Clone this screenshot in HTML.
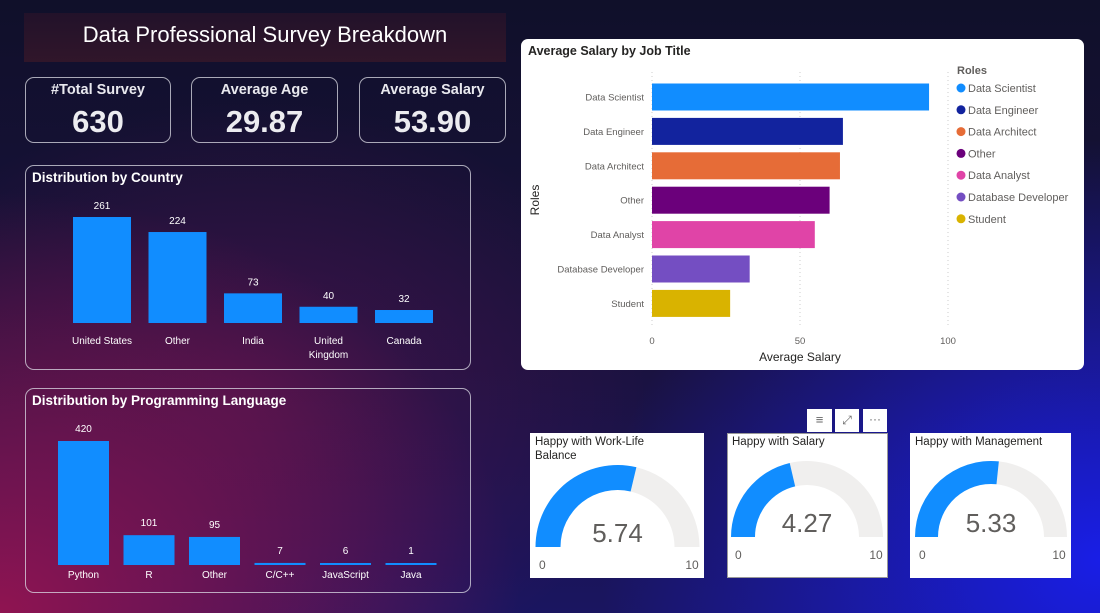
<!DOCTYPE html>
<html><head><meta charset="utf-8">
<style>
*{margin:0;padding:0;box-sizing:border-box}
body{width:1100px;height:613px;overflow:hidden;font-family:"Liberation Sans",sans-serif;position:relative;
background:
radial-gradient(ellipse 520px 420px at 0px 613px,rgba(150,20,80,0.95),rgba(150,20,80,0) 100%),
radial-gradient(ellipse 500px 420px at 1100px 560px,rgba(25,30,230,1),rgba(25,30,230,0) 100%),
radial-gradient(ellipse 400px 300px at 250px 400px,rgba(90,20,80,0.6),rgba(90,20,80,0) 100%),
linear-gradient(180deg,#10102a 0%,#1a1240 60%,#1a1560 100%);}
.abs{position:absolute}
.card{position:absolute;border:1.5px solid rgba(220,220,230,0.75);border-radius:9px}
.kpi .l{position:absolute;left:0;right:0;top:4px;text-align:center;color:#e8e8ee;font-weight:bold;font-size:14.5px}
.kpi .v{position:absolute;left:0;right:0;top:26px;text-align:center;color:#ececf0;font-weight:bold;font-size:31px}
svg text{font-family:"Liberation Sans",sans-serif}
</style></head><body>
<div class="abs" style="left:24px;top:13px;width:482px;height:49px;background:linear-gradient(180deg,rgba(35,18,42,0.95),rgba(50,22,42,0.95));color:#fff;font-size:22px;text-align:center;line-height:44px">Data Professional Survey Breakdown</div>
<div class="card kpi" style="left:25px;top:77px;width:146px;height:66px"><div class="l">#Total Survey</div><div class="v">630</div></div>
<div class="card kpi" style="left:191px;top:77px;width:147px;height:66px"><div class="l">Average Age</div><div class="v">29.87</div></div>
<div class="card kpi" style="left:359px;top:77px;width:147px;height:66px"><div class="l">Average Salary</div><div class="v">53.90</div></div>
<div class="card" style="left:25px;top:165px;width:446px;height:205px"></div>
<div class="card" style="left:25px;top:388px;width:446px;height:205px"></div>
<div class="abs" style="left:521px;top:39px;width:563px;height:331px;background:#fff;border-radius:7px"></div>
<div class="abs" style="left:530px;top:433px;width:174px;height:145px;background:#fff"></div>
<div class="abs" style="left:727px;top:433px;width:161px;height:145px;background:#fff;border:1px solid #999"></div>
<div class="abs" style="left:910px;top:433px;width:161px;height:145px;background:#fff"></div>
<div class="abs" style="left:807px;top:409px;width:25px;height:23px;background:#fff;color:#666;font-size:13px;text-align:center;line-height:22px">≡</div>
<div class="abs" style="left:835px;top:409px;width:24px;height:23px;background:#fff;color:#666;font-size:12px;text-align:center;line-height:22px">⤢</div>
<div class="abs" style="left:863px;top:409px;width:24px;height:23px;background:#fff;color:#666;font-size:12px;text-align:center;line-height:20px">···</div>
<svg id="s" class="abs" style="left:0;top:0" width="1100" height="613"></svg>
<script>
const countryCats=["United States","Other","India","United|Kingdom","Canada"];
const countryVals=[261,224,73,40,32];
const langCats=["Python","R","Other","C/C++","JavaScript","Java"];
const langVals=[420,101,95,7,6,1];
const roleCats=["Data Scientist","Data Engineer","Data Architect","Other","Data Analyst","Database Developer","Student"];
const roleVals=[93.6,64.5,63.5,60,55,33,26.4];
const roleColors=["#118dff","#12239e","#e66c37","#6b007b","#e044a7","#744ec2","#d9b300"];
const salaryTicks=[0,50,100];
const gaugeTitles=[["Happy with Work-Life","Balance"],["Happy with Salary"],["Happy with Management"]];
const gaugeVals=[5.74,4.27,5.33];
const gaugeMax=10;

const s=document.getElementById('s');const NS='http://www.w3.org/2000/svg';
function el(t,a,txt){const e=document.createElementNS(NS,t);for(const k in a)e.setAttribute(k,a[k]);if(txt!==undefined)e.textContent=txt;s.appendChild(e);return e;}

let t=el('text',{x:32,y:182,fill:'#fff','font-size':13.5,'font-weight':'bold'},'Distribution by Country');


t=el('text',{x:32,y:405,fill:'#fff','font-size':13.5,'font-weight':'bold'},'Distribution by Programming Language');



(function(){const base=323,scale=106/261,x0=73,step=75.5,w=58;
countryVals.forEach((v,i)=>{const h=v*scale,x=x0+i*step;
const r=el('rect',{x:x,y:base-h,width:w,height:h,fill:'#118dff'});


el('text',{x:x+w/2,y:base-h-8,fill:'#fff','font-size':10,'text-anchor':'middle'},v);
countryCats[i].split('|').forEach((p,j)=>el('text',{x:x+w/2,y:344+j*14,fill:'#fff','font-size':10,'text-anchor':'middle'},p));
});})();

(function(){const base=565,scale=124/420,x0=58,step=65.5,w=51;
langVals.forEach((v,i)=>{const h=Math.max(v*scale,2),x=x0+i*step;
const r=el('rect',{x:x,y:base-h,width:w,height:h,fill:'#118dff'});


el('text',{x:x+w/2,y:base-h-9,fill:'#fff','font-size':10,'text-anchor':'middle'},v);
el('text',{x:x+w/2,y:578,fill:'#fff','font-size':10,'text-anchor':'middle'},langCats[i]);
});})();

(function(){const x0=652,sc=296/100,y0=97,step=34.4,bh=27;
t=el('text',{x:528,y:55,fill:'#252423','font-size':12.5,'font-weight':'bold'},'Average Salary by Job Title');


salaryTicks.forEach(v=>{const x=x0+v*sc;
el('line',{x1:x,y1:72,x2:x,y2:328,stroke:'#ccc','stroke-dasharray':'1,3'});
el('text',{x:x,y:344,fill:'#605e5c','font-size':9.5,'text-anchor':'middle'},v);});
roleVals.forEach((v,i)=>{const y=y0+i*step;
const r=el('rect',{x:x0,y:y-bh/2,width:v*sc,height:bh,fill:roleColors[i]});


el('text',{x:644,y:y+3.5,fill:'#605e5c','font-size':9.5,'text-anchor':'end'},roleCats[i]);
const ly=88+i*21.8;
const c=el('circle',{cx:961,cy:ly,r:4.5,fill:roleColors[i]});


el('text',{x:968,y:ly+4,fill:'#605e5c','font-size':11},roleCats[i]);});
el('text',{x:957,y:74,fill:'#605e5c','font-size':11,'font-weight':'bold'},'Roles');
t=el('text',{x:800,y:361,fill:'#252423','font-size':12,'text-anchor':'middle'},'Average Salary');


t=el('text',{x:0,y:0,fill:'#252423','font-size':12,'text-anchor':'middle',transform:'translate(539,200) rotate(-90)'},'Roles');


})();

(function(){const G=[{cx:617.5,cy:547,R:82,r:57,tx:535,ty:445,z0:539,z1:692,zl:565},
{cx:807,cy:537,R:76,r:52,tx:732,ty:445,z0:735,z1:876,zl:555},
{cx:991,cy:537,R:76,r:53,tx:915,ty:445,z0:919,z1:1059,zl:555}];
function arc(g,a0,a1){const p=(rad,a)=>[g.cx-rad*Math.cos(a),g.cy-rad*Math.sin(a)];
const [x1,y1]=p(g.R,a0),[x2,y2]=p(g.R,a1),[x3,y3]=p(g.r,a1),[x4,y4]=p(g.r,a0);
return `M${x1},${y1} A${g.R},${g.R} 0 0 1 ${x2},${y2} L${x3},${y3} A${g.r},${g.r} 0 0 0 ${x4},${y4} Z`;}
gaugeVals.forEach((v,i)=>{const g=G[i],a=Math.PI*v/gaugeMax;
el('path',{d:arc(g,a,Math.PI),fill:'#f0efee'});
const p=el('path',{d:arc(g,0,a),fill:'#118dff'});


gaugeTitles[i].forEach((l,j)=>el('text',{x:g.tx,y:g.ty+j*14,fill:'#252423','font-size':11.5},l));
el('text',{x:g.cx,y:g.cy-5,fill:'#605e5c','font-size':26,'text-anchor':'middle'},v.toFixed(2));
el('text',{x:g.z0,y:g.zl+4,fill:'#605e5c','font-size':12},'0');
el('text',{x:g.z1,y:g.zl+4,fill:'#605e5c','font-size':12,'text-anchor':'middle'},gaugeMax);
});})();
</script>
</body></html>
